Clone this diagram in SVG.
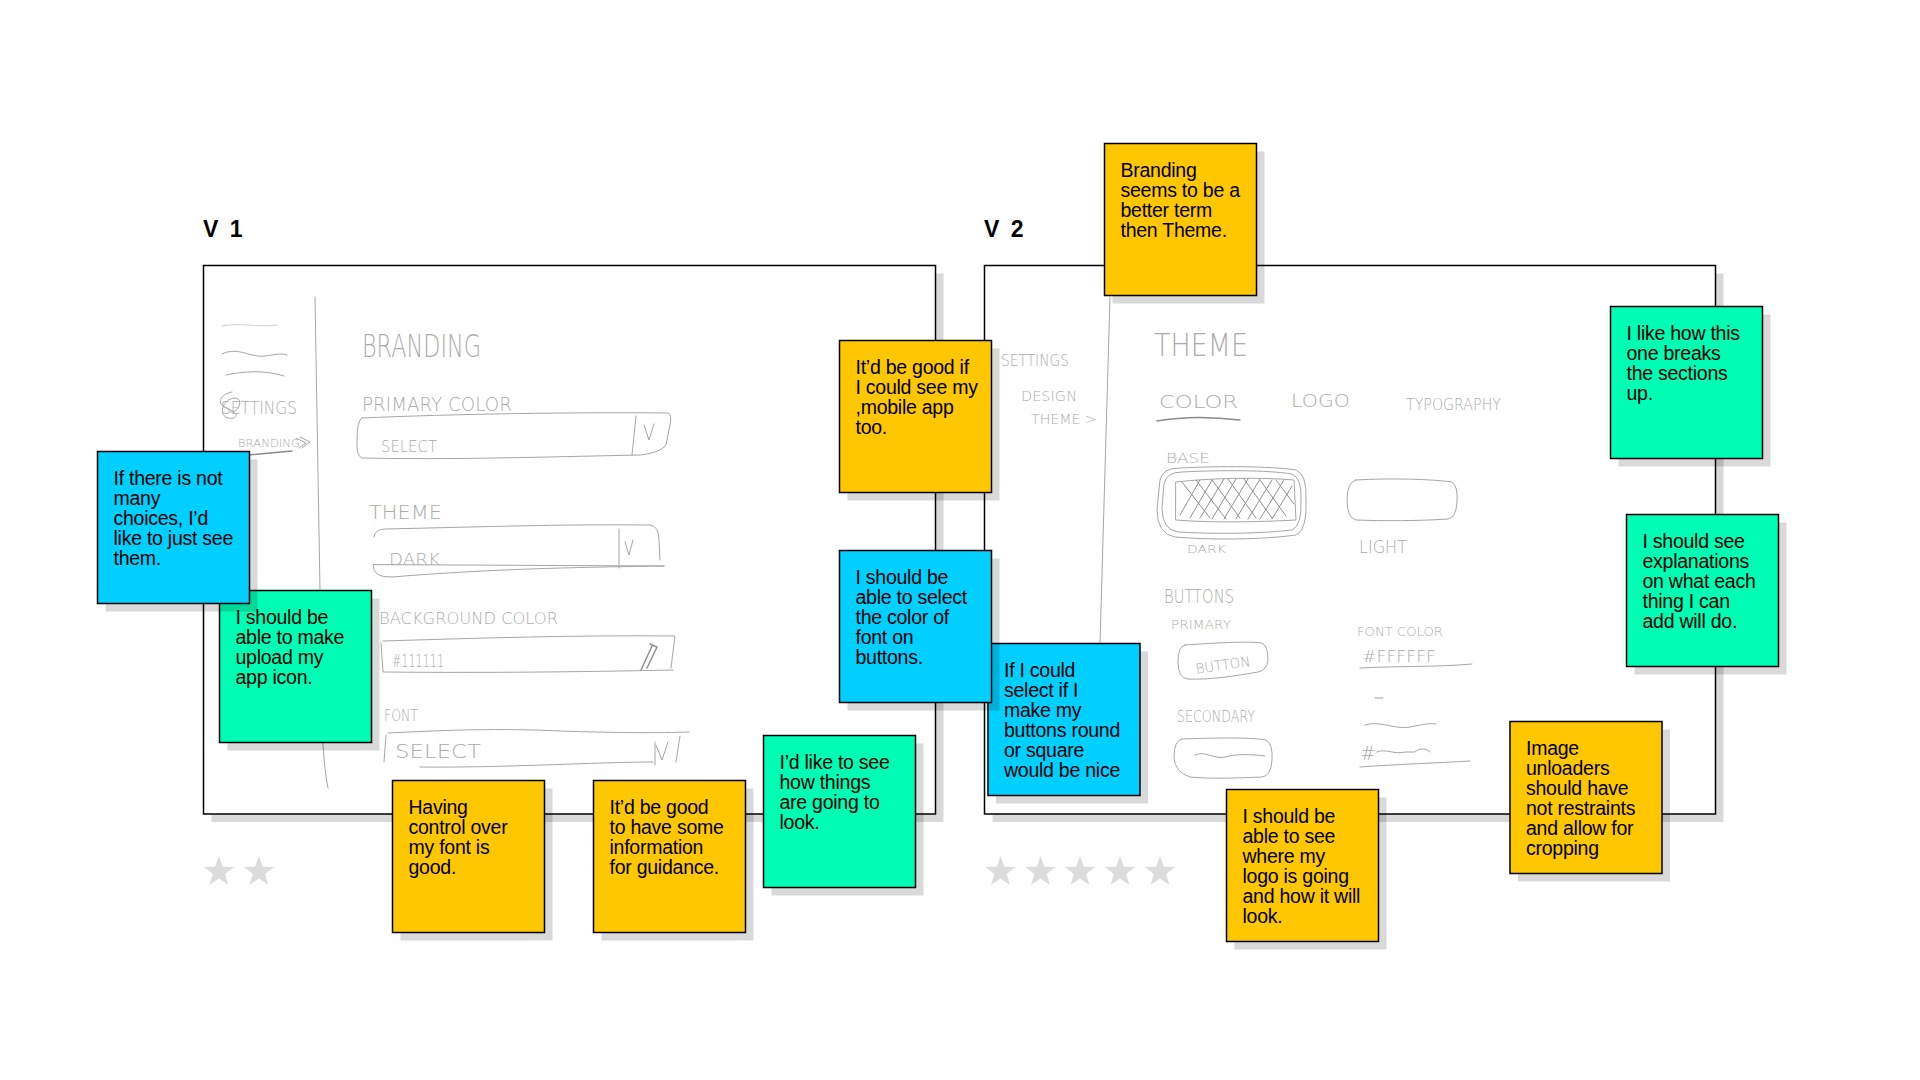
<svg xmlns="http://www.w3.org/2000/svg" width="1920" height="1080" viewBox="0 0 1920 1080">
<style>
.bg{fill:#ffffff}
.frame{fill:#ffffff;stroke:#000;stroke-width:1.5}
.sh{fill:#000;fill-opacity:0.15}
.yellow{fill:#FFC700;stroke:#000;stroke-width:1.5}
.blue{fill:#00CFFF;stroke:#000;stroke-width:1.5}
.green{fill:#00FDB4;stroke:#000;stroke-width:1.5}
.t{font-family:"Liberation Sans",Arial,sans-serif;font-size:19.5px;letter-spacing:-0.25px;fill:#000}
.lbl{font-family:"Liberation Sans",Arial,sans-serif;font-size:23px;font-weight:bold;letter-spacing:2.5px;fill:#000}
.sk{fill:none;stroke:#a6a6a6;stroke-width:1;stroke-linecap:round;stroke-linejoin:round}
.skd{fill:none;stroke:#8a8a8a;stroke-width:1.4;stroke-linecap:round}
.skt{font-family:"DejaVu Sans",sans-serif;font-weight:200;fill:#ababab}
.star{fill:#dcdcdc}
</style>
<defs>
<path id="star" d="M0,-16 L3.82,-5.26 L15.22,-4.94 L6.18,2.01 L9.4,12.94 L0,6.5 L-9.4,12.94 L-6.18,2.01 L-15.22,-4.94 L-3.82,-5.26 Z"/>
</defs>
<rect class="bg" width="1920" height="1080"/>

<!-- V1 board -->
<g id="board-v1">
<text class="lbl" x="203" y="237">V 1</text>
<rect class="sh" x="211.5" y="273.5" width="732" height="548.5"/>
<rect class="frame" x="203.5" y="265.5" width="732" height="548.5"/>
<g id="sketch-v1">
<path class="sk" d="M222,326 C240,322 260,328 277,325" stroke-width="2" style="stroke:#cfcfcf"/>
<path class="sk" d="M222,354 C238,346 250,358 265,356 S280,353 287,355"/>
<path class="sk" d="M226,375 C245,371 265,370 284,376"/>
<text class="skt" x="221" y="414" font-size="17" textLength="76" lengthAdjust="spacingAndGlyphs">SETTINGS</text>
<path class="sk" d="M232,392 C220,394 216,404 226,408 C238,412 240,420 228,418 C218,416 222,398 236,398 C244,400 238,414 230,412"/>
<text class="skt" x="238" y="447" font-size="11" textLength="62" lengthAdjust="spacingAndGlyphs">BRANDING</text>
<path class="sk" d="M300,437 L310,442 L302,448 M296,438 L306,443 L299,448"/>
<path class="skd" d="M248,455 L292,451"/>
<path class="sk" d="M315,297 L320,590 L323,745 Q325,775 328,788"/>
<text class="skt" x="362" y="357" font-size="32" textLength="119" lengthAdjust="spacingAndGlyphs">BRANDING</text>
<text class="skt" x="362" y="411" font-size="19" textLength="150" lengthAdjust="spacingAndGlyphs">PRIMARY COLOR</text>
<path class="sk" d="M362,418 C450,414 580,412 668,413 Q672,414 670,425 L666,445 Q660,453 640,455 C540,457 450,460 362,458 Q356,456 357,440 Q357,420 362,418 Z"/>
<path class="sk" d="M636,416 L632,455 M644,425 L649,440 L654,424"/>
<text class="skt" x="381" y="452" font-size="15" textLength="56" lengthAdjust="spacingAndGlyphs">SELECT</text>
<text class="skt" x="369" y="519" font-size="20" textLength="73" lengthAdjust="spacingAndGlyphs">THEME</text>
<path class="sk" d="M374,537 Q375,529 385,529 C480,527 560,524 650,525 Q659,526 659,540 L660,560 M664,566 C600,567 500,568 392,577 Q373,578 373,565 Z"/>
<path class="sk" d="M619,529 L619,568 M625,542 L629,555 L633,540"/>
<text class="skt" x="389" y="565" font-size="15" textLength="51" lengthAdjust="spacingAndGlyphs">DARK</text>
<text class="skt" x="379" y="624" font-size="16" textLength="179" lengthAdjust="spacingAndGlyphs">BACKGROUND  COLOR</text>
<path class="sk" d="M383,641 C480,638 580,635 675,636 L671,668 M381,643 L383,672 C480,673 580,672 673,670"/>
<text class="skt" x="392" y="667" font-size="17" textLength="52" lengthAdjust="spacingAndGlyphs">#111111</text>
<path class="skd" d="M641,670 L652,646 M650,644 L657,647 L647,668"/>
<text class="skt" x="384" y="721" font-size="16" textLength="34" lengthAdjust="spacingAndGlyphs">FONT</text>
<path class="sk" d="M386,735 L384,762 M388,733 C450,730 500,728 560,731 C620,733 660,733 689,732 M420,767 C500,768 600,762 653,762 M655,742 L655,765 M656,745 L662,760 L668,742 M680,736 L676,762"/>
<text class="skt" x="395" y="758" font-size="19" textLength="86" lengthAdjust="spacingAndGlyphs">SELECT</text>
</g>
<g id="stars-v1">
<use href="#star" class="star" x="219" y="872"/>
<use href="#star" class="star" x="259" y="872"/>
</g>
</g>

<!-- V2 board -->
<g id="board-v2">
<text class="lbl" x="984" y="237">V 2</text>
<rect class="sh" x="992.5" y="273.5" width="731" height="548.5"/>
<rect class="frame" x="984.5" y="265.5" width="731" height="548.5"/>
<g id="sketch-v2">
<text class="skt" x="1001" y="366" font-size="16" textLength="68" lengthAdjust="spacingAndGlyphs">SETTINGS</text>
<text class="skt" x="1021" y="401" font-size="14" textLength="56" lengthAdjust="spacingAndGlyphs">DESIGN</text>
<text class="skt" x="1031" y="424" font-size="14" textLength="66" lengthAdjust="spacingAndGlyphs">THEME &gt;</text>
<path class="sk" d="M1110,297 L1100,643"/>
<text class="skt" x="1154" y="356" font-size="32" textLength="94" lengthAdjust="spacingAndGlyphs">THEME</text>
<text class="skt" x="1159" y="408" font-size="18" textLength="79" lengthAdjust="spacingAndGlyphs">COLOR</text>
<path class="skd" d="M1157,421 C1185,416 1215,417 1240,420"/>
<text class="skt" x="1291" y="407" font-size="18" textLength="59" lengthAdjust="spacingAndGlyphs">LOGO</text>
<text class="skt" x="1406" y="410" font-size="16" textLength="95" lengthAdjust="spacingAndGlyphs">TYPOGRAPHY</text>
<text class="skt" x="1166" y="463" font-size="14" textLength="44" lengthAdjust="spacingAndGlyphs">BASE</text>
<path class="sk" d="M1160,480 Q1162,468 1180,468 C1220,466 1270,466 1296,470 Q1307,474 1306,500 Q1307,530 1296,535 C1260,540 1210,540 1175,537 Q1157,534 1157,510 Z"/>
<path class="sk" d="M1164,484 Q1166,472 1182,472 C1220,470 1268,470 1292,474 Q1302,478 1301,500 Q1302,526 1292,530 C1258,534 1212,534 1178,532 Q1162,530 1162,508 Z"/>
<path class="sk" d="M1176,482 C1210,478 1260,477 1294,480 L1296,520 C1260,522 1210,523 1176,520 Z"/>
<path class="sk" style="stroke:#8f8f8f" d="M1180,515 L1200,480 M1190,518 L1212,480 M1200,518 L1224,479 M1212,519 L1236,479 M1224,519 L1248,479 M1236,519 L1260,479 M1248,519 L1272,480 M1260,519 L1284,480 M1272,519 L1292,486 M1182,482 L1210,518 M1196,480 L1226,519 M1212,480 L1240,518 M1228,479 L1256,518 M1244,479 L1272,518 M1260,480 L1286,516 M1276,480 L1294,504"/>
<path class="sk" d="M1356,480 C1390,478 1430,479 1452,482 Q1458,486 1457,502 Q1456,518 1448,519 C1420,521 1380,521 1356,520 Q1347,518 1347,500 Q1347,482 1356,480 Z"/>
<text class="skt" x="1187" y="553" font-size="11" textLength="39" lengthAdjust="spacingAndGlyphs">DARK</text>
<text class="skt" x="1359" y="553" font-size="17" textLength="48" lengthAdjust="spacingAndGlyphs">LIGHT</text>
<text class="skt" x="1164" y="603" font-size="19" textLength="70" lengthAdjust="spacingAndGlyphs">BUTTONS</text>
<text class="skt" x="1171" y="629" font-size="12" textLength="60" lengthAdjust="spacingAndGlyphs">PRIMARY</text>
<path class="sk" d="M1185,645 C1215,643 1245,641 1262,643 Q1268,646 1268,660 Q1267,670 1258,672 C1235,676 1210,680 1188,679 Q1178,678 1178,662 Q1178,646 1185,645 Z"/>
<text class="skt" x="1195" y="670" font-size="14" textLength="55" lengthAdjust="spacingAndGlyphs" transform="rotate(-8 1222 662)">BUTTON</text>
<text class="skt" x="1357" y="636" font-size="13" textLength="86" lengthAdjust="spacingAndGlyphs">FONT COLOR</text>
<text class="skt" x="1362" y="662" font-size="16" textLength="74" lengthAdjust="spacingAndGlyphs">#FFFFFF</text>
<path class="sk" d="M1360,668 C1400,666 1440,667 1472,664 M1375,698 L1383,698"/>
<text class="skt" x="1177" y="722" font-size="15" textLength="78" lengthAdjust="spacingAndGlyphs">SECONDARY</text>
<path class="sk" d="M1182,739 C1210,738 1250,737 1266,740 Q1273,744 1272,760 Q1271,776 1262,777 C1240,778 1210,779 1190,777 Q1175,772 1174,758 Q1174,740 1182,739 Z"/>
<path class="sk" d="M1195,755 C1205,750 1215,760 1225,757 S1250,754 1265,756"/>
<path class="sk" d="M1365,725 C1380,720 1395,730 1410,727 S1430,723 1436,724"/>
<text class="skt" x="1360" y="760" font-size="19">#</text>
<path class="sk" d="M1377,752 C1385,748 1395,755 1405,752 L1415,752 C1420,747 1428,749 1430,752 M1360,767 C1400,764 1440,763 1470,761"/>
</g>
<g id="stars-v2">
<use href="#star" class="star" x="1000.5" y="872"/>
<use href="#star" class="star" x="1040.5" y="872"/>
<use href="#star" class="star" x="1080" y="872"/>
<use href="#star" class="star" x="1120" y="872"/>
<use href="#star" class="star" x="1160" y="872"/>
</g>
</g>

<g id="connectors"></g>

<!-- sticky notes -->
<g id="note-app-icon" transform="translate(219.5,590.5)">
<rect class="sh" x="8" y="8" width="152" height="152"/>
<rect class="green" width="152" height="152"/>
<text class="t"><tspan x="16" y="33">I should be</tspan><tspan x="16" dy="20">able to make</tspan><tspan x="16" dy="20">upload my</tspan><tspan x="16" dy="20">app icon.</tspan></text>
</g>
<g id="note-choices" transform="translate(97.5,451.5)">
<rect class="sh" x="8" y="8" width="152" height="152"/>
<rect class="blue" width="152" height="152"/>
<text class="t"><tspan x="16" y="33">If there is not</tspan><tspan x="16" dy="20">many</tspan><tspan x="16" dy="20">choices, I’d</tspan><tspan x="16" dy="20">like to just see</tspan><tspan x="16" dy="20">them.</tspan></text>
</g>
<g id="note-font-control" transform="translate(392.5,780.5)">
<rect class="sh" x="8" y="8" width="152" height="152"/>
<rect class="yellow" width="152" height="152"/>
<text class="t"><tspan x="16" y="33">Having</tspan><tspan x="16" dy="20">control over</tspan><tspan x="16" dy="20">my font is</tspan><tspan x="16" dy="20">good.</tspan></text>
</g>
<g id="note-guidance" transform="translate(593.5,780.5)">
<rect class="sh" x="8" y="8" width="152" height="152"/>
<rect class="yellow" width="152" height="152"/>
<text class="t"><tspan x="16" y="33">It’d be good</tspan><tspan x="16" dy="20">to have some</tspan><tspan x="16" dy="20">information</tspan><tspan x="16" dy="20">for guidance.</tspan></text>
</g>
<g id="note-preview" transform="translate(763.5,735.5)">
<rect class="sh" x="8" y="8" width="152" height="152"/>
<rect class="green" width="152" height="152"/>
<text class="t"><tspan x="16" y="33">I’d like to see</tspan><tspan x="16" dy="20">how things</tspan><tspan x="16" dy="20">are going to</tspan><tspan x="16" dy="20">look.</tspan></text>
</g>
<g id="note-mobile-app" transform="translate(839.5,340.5)">
<rect class="sh" x="8" y="8" width="152" height="152"/>
<rect class="yellow" width="152" height="152"/>
<text class="t"><tspan x="16" y="33">It’d be good if</tspan><tspan x="16" dy="20">I could see my</tspan><tspan x="16" dy="20">,mobile app</tspan><tspan x="16" dy="20">too.</tspan></text>
</g>
<g id="note-round-square" transform="translate(988,643.5)">
<rect class="sh" x="8" y="8" width="152" height="152"/>
<rect class="blue" width="152" height="152"/>
<text class="t"><tspan x="16" y="33">If I could</tspan><tspan x="16" dy="20">select if I</tspan><tspan x="16" dy="20">make my</tspan><tspan x="16" dy="20">buttons round</tspan><tspan x="16" dy="20">or square</tspan><tspan x="16" dy="20">would be nice</tspan></text>
</g>
<g id="note-button-font" transform="translate(839.5,550.5)">
<rect class="sh" x="8" y="8" width="152" height="152"/>
<rect class="blue" width="152" height="152"/>
<text class="t"><tspan x="16" y="33">I should be</tspan><tspan x="16" dy="20">able to select</tspan><tspan x="16" dy="20">the color of</tspan><tspan x="16" dy="20">font on</tspan><tspan x="16" dy="20">buttons.</tspan></text>
</g>
<g id="note-branding" transform="translate(1104.5,143.5)">
<rect class="sh" x="8" y="8" width="152" height="152"/>
<rect class="yellow" width="152" height="152"/>
<text class="t"><tspan x="16" y="33">Branding</tspan><tspan x="16" dy="20">seems to be a</tspan><tspan x="16" dy="20">better term</tspan><tspan x="16" dy="20">then Theme.</tspan></text>
</g>
<g id="note-sections" transform="translate(1610.5,306.5)">
<rect class="sh" x="8" y="8" width="152" height="152"/>
<rect class="green" width="152" height="152"/>
<text class="t"><tspan x="16" y="33">I like how this</tspan><tspan x="16" dy="20">one breaks</tspan><tspan x="16" dy="20">the sections</tspan><tspan x="16" dy="20">up.</tspan></text>
</g>
<g id="note-explanations" transform="translate(1626.5,514.5)">
<rect class="sh" x="8" y="8" width="152" height="152"/>
<rect class="green" width="152" height="152"/>
<text class="t"><tspan x="16" y="33">I should see</tspan><tspan x="16" dy="20">explanations</tspan><tspan x="16" dy="20">on what each</tspan><tspan x="16" dy="20">thing I can</tspan><tspan x="16" dy="20">add will do.</tspan></text>
</g>
<g id="note-image-uploaders" transform="translate(1510,721.5)">
<rect class="sh" x="8" y="8" width="152" height="152"/>
<rect class="yellow" width="152" height="152"/>
<text class="t"><tspan x="16" y="33">Image</tspan><tspan x="16" dy="20">unloaders</tspan><tspan x="16" dy="20">should have</tspan><tspan x="16" dy="20">not restraints</tspan><tspan x="16" dy="20">and allow for</tspan><tspan x="16" dy="20">cropping</tspan></text>
</g>
<g id="note-logo" transform="translate(1226.5,789.5)">
<rect class="sh" x="8" y="8" width="152" height="152"/>
<rect class="yellow" width="152" height="152"/>
<text class="t"><tspan x="16" y="33">I should be</tspan><tspan x="16" dy="20">able to see</tspan><tspan x="16" dy="20">where my</tspan><tspan x="16" dy="20">logo is going</tspan><tspan x="16" dy="20">and how it will</tspan><tspan x="16" dy="20">look.</tspan></text>
</g>
</svg>
